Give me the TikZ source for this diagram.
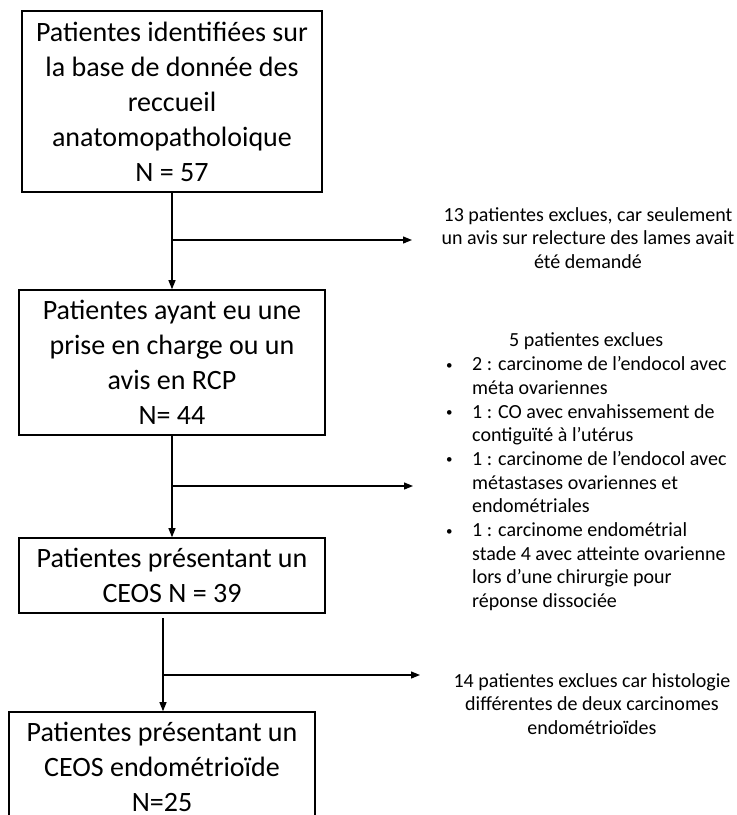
\documentclass[tikz,border=0pt]{standalone}
\usepackage{fontspec}
\setmainfont{Carlito}
\usetikzlibrary{arrows.meta, positioning}

\newcommand{\blt}{\makebox[26pt][l]{\raisebox{1.5pt}{\fontsize{13}{13}\selectfont\textbullet}}}

\tikzset{
	patbox/.style={draw, line width=1.6pt, inner sep=0pt, align=center, font=\fontsize{28}{35}\selectfont},
	excl/.style={inner sep=0pt, font=\fontsize{20}{23.7}\selectfont},
	flow/.style={line width=1.2pt, -{Triangle[length=9pt,width=7pt]}}
}

\begin{document}
\begin{tikzpicture}[x=1pt, y=-1pt]
		\useasboundingbox (0,0) rectangle (737,815);
		\clip (0,0) rectangle (737,815);
		\draw (172,101.5) node[patbox, minimum width=300, minimum height=181] (ident){Patientes identifiées sur\\la base de donnée des\\reccueil\\anatomopatholoique\\N = 57}
		(172,362.5) node[patbox, minimum width=306, minimum height=145] (rcp) {Patientes ayant eu une\\prise en charge ou un\\avis en RCP\\N= 44}
		(172,575.5) node[patbox, minimum width=306, minimum height=75] (ceos) {Patientes présentant un\\CEOS N = 39}
		(162,767) node[patbox, minimum width=306, minimum height=110] (endo) {Patientes présentant un\\CEOS endométrioïde\\N=25};
		
		\node[excl, align=center] (ex1) at (588,238) {13 patientes exclues, car seulement\\un avis sur relecture des lames avait\\été demandé};
		\node[excl, align=left, anchor=west] (ex2) at (446,472) {\hspace*{63pt}5 patientes exclues\\
			\blt 2 : carcinome de l’endocol avec\\
			\hspace*{26pt}méta ovariennes\\
			\blt 1 : CO avec envahissement de\\
			\hspace*{26pt}contiguïté à l’utérus\\
			\blt 1 : carcinome de l’endocol avec\\
			\hspace*{26pt}métastases ovariennes et\\
			\hspace*{26pt}endométriales\\
			\blt 1 : carcinome endométrial\\
			\hspace*{26pt}stade 4 avec atteinte ovarienne\\
			\hspace*{26pt}lors d’une chirurgie pour\\
			\hspace*{26pt}réponse dissociée};
		\node[excl, align=center] (ex3) at (592,704) {14 patientes exclues car histologie\\différentes de deux carcinomes\\endométrioïdes};
		
		\coordinate (j1) at (172,240);
		\coordinate (e1) at (412,240);
		\coordinate (j2) at (172,486);
		\coordinate (e2) at (413,486);
		\coordinate (s3) at (163,618);
		\coordinate (j3) at (163,675);
		\coordinate (e3) at (420,675);
		
		\draw[flow] (ident) -- (rcp);
		\draw[flow] (rcp) -- (ceos);
		\draw[flow] (s3) -- (s3 |- endo.north);
		\draw[flow] (j1) -- (e1);
		\draw[flow] (j2) -- (e2);
		\draw[flow] (j3) -- (e3);
	\end{tikzpicture}
\end{document}
